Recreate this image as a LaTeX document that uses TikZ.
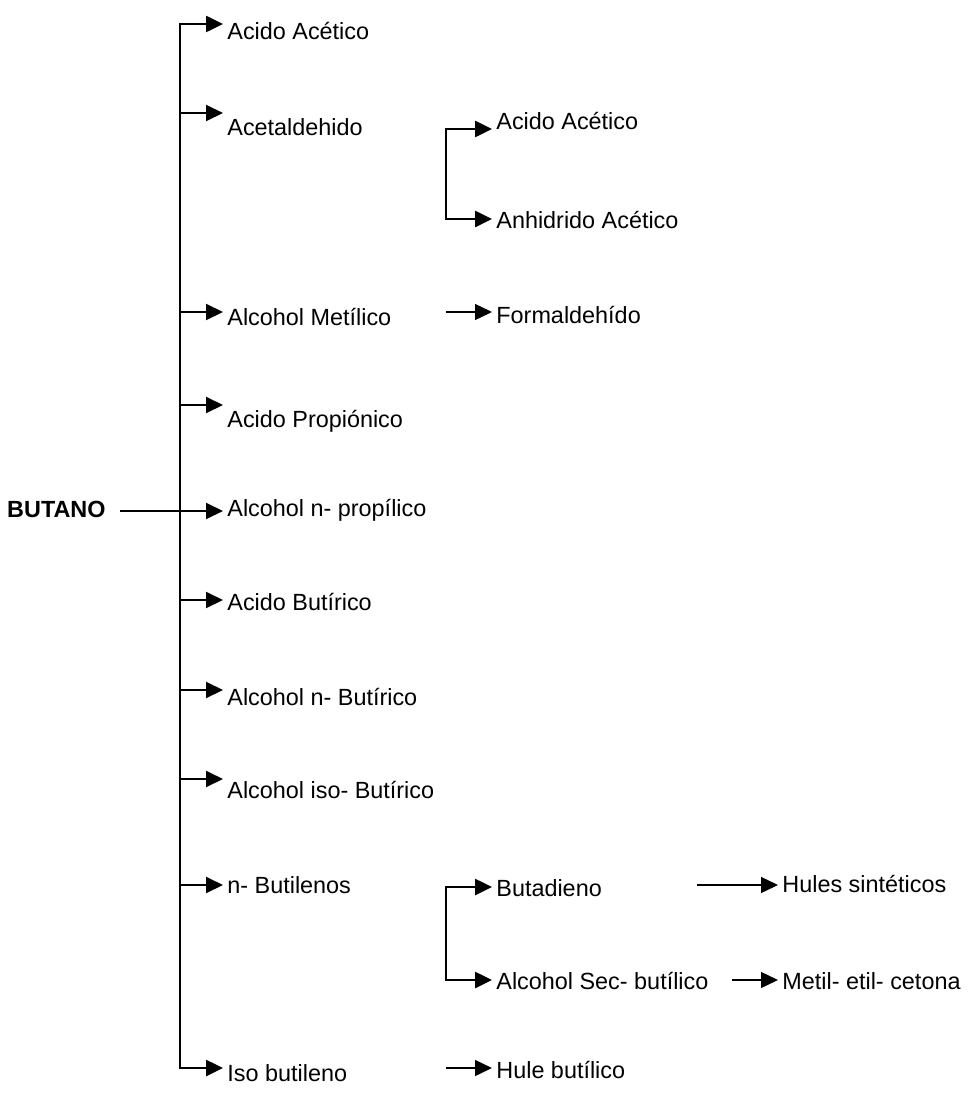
\documentclass[tikz,border=0pt]{standalone}
\usepackage{fontspec}
\setmainfont{Liberation Sans}
\usetikzlibrary{arrows.meta}
\tikzstyle{producto} = [anchor=west, inner xsep=2pt, inner ysep=0pt,
    text depth=0pt, font=\fontsize{11.7}{14}\selectfont]
\tikzstyle{flecha} = [-{Triangle[length=8.5pt,width=8pt]}, line width=1pt]
\tikzstyle{flechafina} = [-{Triangle[length=8.5pt,width=8pt]}, line width=0.7pt]
\tikzstyle{llave} = [{Triangle[length=8.5pt,width=8pt]}-{Triangle[length=8.5pt,width=8pt]},
    line width=1.3pt]

\begin{document}
\begin{tikzpicture}[x=0.5pt, y=-0.5pt]
    \useasboundingbox (0,0) rectangle (973,1097);

    % derivados directos
    \node[producto, text height=16pt] (acetico) at (223,24) {Acido Acético};
    \node[producto, text height=22pt] (acetaldehido) at (223,113) {Acetaldehido};
    \node[producto, text height=13pt] (metilico) at (223,312) {Alcohol Metílico};
    \node[producto, text height=22pt] (propionico) at (223,405) {Acido Propiónico};
    \node[producto, text height=5pt] (propilico) at (223,511) {Alcohol n- propílico};
    \node[producto, text height=10pt] (butirico) at (223,600) {Acido Butírico};
    \node[producto, text height=15pt] (nbutirico) at (223,690) {Alcohol n- Butírico};
    \node[producto, text height=19pt] (isobutirico) at (223,779) {Alcohol iso- Butírico};
    \node[producto, text height=8pt] (butilenos) at (223,885) {n- Butilenos};
    \node[producto, text height=13pt] (isobutileno) at (223,1068) {Iso butileno};

    \node[producto, anchor=east, inner xsep=7pt, text height=6pt,
        font=\fontsize{11.7}{14}\selectfont\bfseries] (butano) at (120,511) {BUTANO};
    \coordinate (tronco) at (180,511);

    % segundo nivel
    \node[producto, text height=1pt] (acetico2) at (492,129) {Acido Acético};
    \node[producto, text height=9pt] (anhidrido) at (492,219) {Anhidrido Acético};
    \node[producto, text height=11pt] (formaldehido) at (492,312) {Formaldehído};
    \node[producto, text height=9pt] (butadieno) at (492,887) {Butadieno};
    \node[producto, text height=9pt] (secbutilico) at (492,980) {Alcohol Sec- butílico};
    \node[producto, text height=10pt] (hulebutilico) at (492,1068) {Hule butílico};

    % tercer nivel
    \node[producto, text height=7pt] (hules) at (778,885) {Hules sintéticos};
    \node[producto, text height=9pt] (cetona) at (778,980) {Metil- etil- cetona};

    \coordinate (llave) at (446,0);
    \coordinate (formal0) at (446,312);
    \coordinate (hules0) at (697,885);
    \coordinate (cetona0) at (732,980);
    \coordinate (hule0) at (446,1068);

    \path[draw,llave] (acetico.west) -| (tronco |- isobutileno.west) -- (isobutileno.west);
    \path[draw,line width=0.7pt] (butano.east) -- (tronco);
    \path[draw,flecha] (tronco) -- (propilico.west);
    \path[draw,flecha] (tronco |- acetaldehido.west) -- (acetaldehido.west);
    \path[draw,flecha] (tronco |- metilico.west) -- (metilico.west);
    \path[draw,flecha] (tronco |- propionico.west) -- (propionico.west);
    \path[draw,flecha] (tronco |- butirico.west) -- (butirico.west);
    \path[draw,flecha] (tronco |- nbutirico.west) -- (nbutirico.west);
    \path[draw,flecha] (tronco |- isobutirico.west) -- (isobutirico.west);
    \path[draw,flecha] (tronco |- butilenos.west) -- (butilenos.west);

    \path[draw,llave] (acetico2.west) -| (llave |- anhidrido.west) -- (anhidrido.west);
    \path[draw,llave] (butadieno.west) -| (llave |- secbutilico.west) -- (secbutilico.west);
    \path[draw,flechafina] (formal0) -- (formaldehido.west);
    \path[draw,flechafina] (hule0) -- (hulebutilico.west);
    \path[draw,flechafina] (hules0) -- (hules.west);
    \path[draw,flechafina] (cetona0) -- (cetona.west);
\end{tikzpicture}
\end{document}
